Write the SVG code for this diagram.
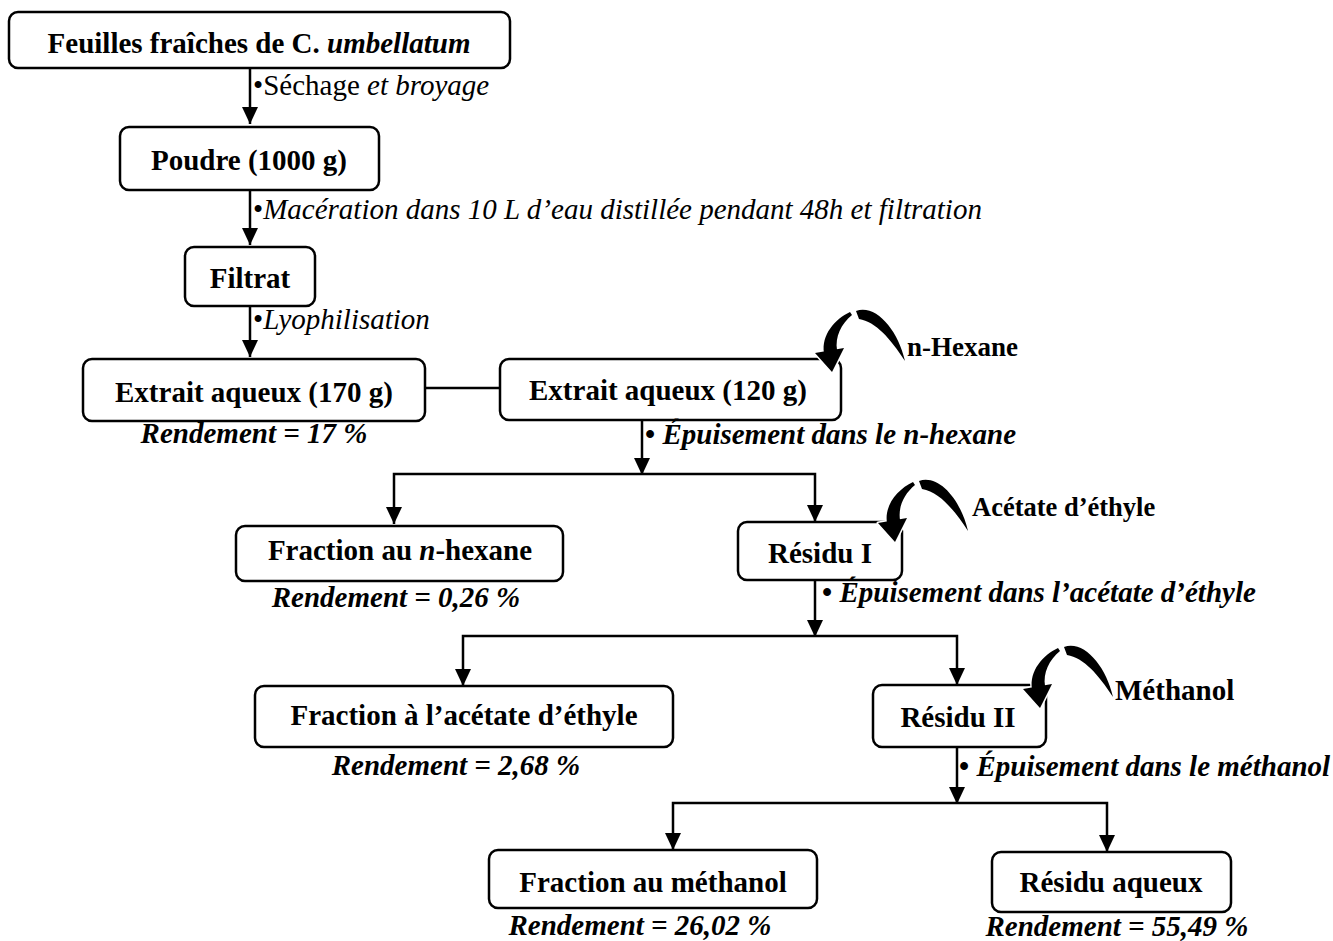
<svg xmlns="http://www.w3.org/2000/svg" width="1333" height="941" viewBox="0 0 1333 941">
<style>
.box{fill:#fff;stroke:#000;stroke-width:2.5}
.conn{fill:none;stroke:#000;stroke-width:2.5}
.t{font-family:"Liberation Serif","Times New Roman",serif;font-size:29px;fill:#000}
.m{text-anchor:middle}
.b{font-weight:bold}
.i{font-style:italic}
.curl{fill:#000;stroke:#fff;stroke-width:3;paint-order:stroke;stroke-linejoin:round}
</style>
<defs>
<marker id="ah" markerUnits="userSpaceOnUse" markerWidth="17" markerHeight="16" refX="17" refY="8" orient="auto">
<path d="M0,0 L17,8 L0,16 Z" fill="#000"/>
</marker>
<path id="curl" class="curl" d="M0,0 L-17,-19 L12,-24 Z M-8,-19 C-11,-37 3,-53 18,-60 L20,-57 C9,-48 3,-35 5,-22 Z M24,-61 C44,-68 66,-42 73,-11 C58,-34 44,-50 27,-53 Z"/>
</defs>

<g id="connectors">
<path class="conn" d="M250,68 V124" marker-end="url(#ah)"/>
<path class="conn" d="M250,190 V245" marker-end="url(#ah)"/>
<path class="conn" d="M250,306 V357" marker-end="url(#ah)"/>
<path class="conn" d="M425,388 H500"/>
<path class="conn" d="M642,420 V475" marker-end="url(#ah)"/>
<path class="conn" d="M642,474 H394 V524" marker-end="url(#ah)"/>
<path class="conn" d="M642,474 H815 V522" marker-end="url(#ah)"/>
<path class="conn" d="M815,580 V637" marker-end="url(#ah)"/>
<path class="conn" d="M815,636 H463 V686" marker-end="url(#ah)"/>
<path class="conn" d="M815,636 H957 V685" marker-end="url(#ah)"/>
<path class="conn" d="M957,747 V804" marker-end="url(#ah)"/>
<path class="conn" d="M957,803 H673 V850" marker-end="url(#ah)"/>
<path class="conn" d="M957,803 H1107 V852" marker-end="url(#ah)"/>
</g>

<g id="label-sechage"><text class="t" x="253" y="95">•Séchage<tspan class="i"> et broyage</tspan></text></g>
<g id="label-maceration"><text class="t" x="253" y="219">•<tspan class="i">Macération dans 10 L d’eau distillée pendant 48h et filtration</tspan></text></g>
<g id="label-lyophilisation"><text class="t" x="253" y="329">•<tspan class="i">Lyophilisation</tspan></text></g>

<g id="n-feuilles">
<rect class="box" x="9" y="12" width="501" height="56" rx="9"/>
<text class="t m b" x="259" y="53">Feuilles fraîches de C. <tspan class="i">umbellatum</tspan></text>
</g>
<g id="n-poudre">
<rect class="box" x="120" y="127" width="259" height="63" rx="9"/>
<text class="t m b" x="249" y="170">Poudre (1000 g)</text>
</g>
<g id="n-filtrat">
<rect class="box" x="185" y="247" width="130" height="59" rx="9"/>
<text class="t m b" x="250" y="288">Filtrat</text>
</g>
<g id="n-extrait170">
<rect class="box" x="83" y="359" width="342" height="62" rx="9"/>
<text class="t m b" x="254" y="402">Extrait aqueux (170 g)</text>
<text class="t m b i" x="254" y="443">Rendement = 17 %</text>
</g>
<g id="n-extrait120">
<rect class="box" x="500" y="359" width="341" height="61" rx="9"/>
<text class="t m b" x="668" y="400">Extrait aqueux (120 g)</text>
<use href="#curl" x="832" y="372"/>
<text class="t b" x="907" y="356" style="font-size:27px">n-Hexane</text>
<text class="t b" x="645" y="444">• <tspan class="i">Épuisement dans le n-hexane</tspan></text>
</g>
<g id="n-fraction-hexane">
<rect class="box" x="236" y="526" width="327" height="55" rx="9"/>
<text class="t m b" x="400" y="560">Fraction au <tspan class="i">n</tspan>-hexane</text>
<text class="t m b i" x="396" y="607">Rendement = 0,26 %</text>
</g>
<g id="n-residu1">
<rect class="box" x="738" y="522" width="164" height="58" rx="9"/>
<text class="t m b" x="820" y="563">Résidu I</text>
<use href="#curl" x="895" y="542"/>
<text class="t b" x="972" y="516" style="font-size:26.5px">Acétate d’éthyle</text>
<text class="t b" x="822" y="602">• <tspan class="i">Épuisement dans l’acétate d’éthyle</tspan></text>
</g>
<g id="n-fraction-acetate">
<rect class="box" x="255" y="686" width="418" height="61" rx="9"/>
<text class="t m b" x="464" y="725">Fraction à l’acétate d’éthyle</text>
<text class="t m b i" x="456" y="775">Rendement = 2,68 %</text>
</g>
<g id="n-residu2">
<rect class="box" x="873" y="685" width="173" height="62" rx="9"/>
<text class="t m b" x="958" y="727">Résidu II</text>
<use href="#curl" x="1040" y="708"/>
<text class="t b" x="1115" y="700">Méthanol</text>
<text class="t b" x="959" y="776">• <tspan class="i">Épuisement dans le méthanol</tspan></text>
</g>
<g id="n-fraction-methanol">
<rect class="box" x="489" y="850" width="328" height="58" rx="9"/>
<text class="t m b" x="653" y="892">Fraction au méthanol</text>
<text class="t m b i" x="640" y="935">Rendement = 26,02 %</text>
</g>
<g id="n-residu-aqueux">
<rect class="box" x="992" y="852" width="239" height="60" rx="9"/>
<text class="t m b" x="1111" y="892">Résidu aqueux</text>
<text class="t m b i" x="1117" y="936">Rendement = 55,49 %</text>
</g>
</svg>
